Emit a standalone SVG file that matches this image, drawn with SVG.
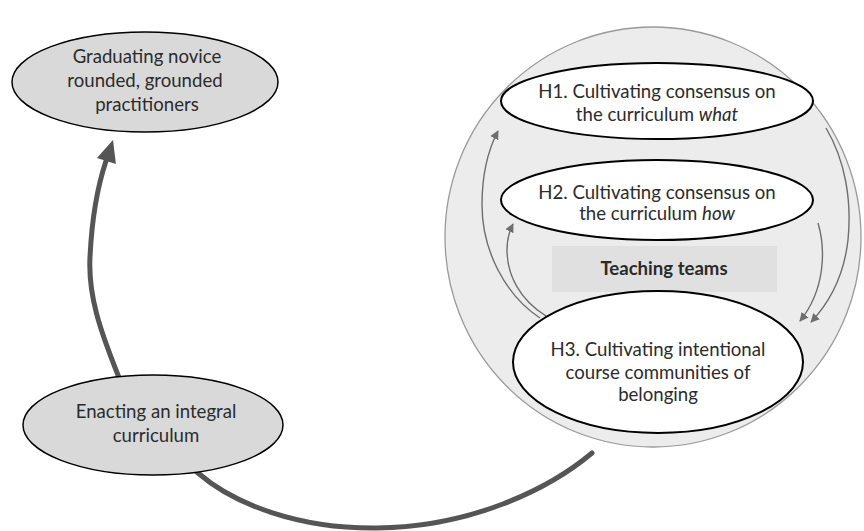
<svg xmlns="http://www.w3.org/2000/svg" width="864" height="531" viewBox="0 0 864 531">
  <defs>
    <marker id="tip" viewBox="0 0 10 10" refX="9" refY="5" markerWidth="9" markerHeight="9" markerUnits="userSpaceOnUse" orient="auto">
      <path d="M0,0 L10,5 L0,10 z" fill="#6e6e6e"/>
    </marker>
  </defs>
  <style>
    .lbl { font-family: Lato, "Open Sans", "Liberation Sans", sans-serif; font-size: 18.6px; fill: #2b2b2b; text-anchor: middle; }
    .bold { font-weight: bold; }
    .gray { fill: #d9d9d9; stroke: #000; stroke-width: 1.5; }
    .white { fill: #fff; stroke: #000; stroke-width: 2; }
    .loop { fill: none; stroke: #6e6e6e; stroke-width: 1.4; marker-end: url(#tip); }
    .main { fill: none; stroke: #555; stroke-width: 5; stroke-linecap: round; }
  </style>
  <rect width="864" height="531" fill="#fff"/>

  <!-- teaching-team sphere -->
  <g id="sphere">
    <ellipse cx="653" cy="237" rx="208" ry="210" fill="#ececec" stroke="#9a9a9a" stroke-width="1.3"/>
  </g>

  <!-- connectors -->
  <g id="connectors">
    <path class="main" d="M592,453 C548,490 470,527 377,528 C300,529 235,505 198,473 C160,440 130,410 118,375 C100,330 88,295 90,257 C92,215 98,185 106,161"/>
    <polygon points="113,140 96.9,157.9 115.9,163.9" fill="#555"/>
    <path class="loop" d="M540,318 C505,295 482,250 482,205 C482,175 488,150 498,131"/>
    <path class="loop" d="M546,316 C520,300 507,275 507,250 C507,240 509,232 513,224"/>
    <path class="loop" d="M826,128 C845,160 852,200 848,240 C844,275 830,302 811,322"/>
    <path class="loop" d="M818,223 C826,250 825,290 800,321"/>
  </g>

  <g id="h1">
    <ellipse class="white" cx="657" cy="101" rx="156" ry="38"/>
    <text class="lbl" x="657" y="98">H1. Cultivating consensus on</text>
    <text class="lbl" x="657" y="121">the curriculum <tspan font-style="italic">what</tspan></text>
  </g>

  <g id="h2">
    <ellipse class="white" cx="657" cy="200" rx="156" ry="40"/>
    <text class="lbl" x="657" y="199">H2. Cultivating consensus on</text>
    <text class="lbl" x="657" y="220">the curriculum <tspan font-style="italic">how</tspan></text>
  </g>

  <g id="teaching-teams">
    <rect x="552" y="246" width="225" height="46" fill="#e0e0e0"/>
    <text class="lbl bold" x="664" y="275">Teaching teams</text>
  </g>

  <g id="h3">
    <ellipse class="white" cx="658" cy="362" rx="145" ry="71"/>
    <text class="lbl" x="658" y="356">H3. Cultivating intentional</text>
    <text class="lbl" x="658" y="379">course communities of</text>
    <text class="lbl" x="658" y="401">belonging</text>
  </g>

  <g id="graduating">
    <ellipse class="gray" cx="145" cy="82" rx="133" ry="50"/>
    <text class="lbl" x="147" y="63">Graduating novice</text>
    <text class="lbl" x="145" y="87">rounded, grounded</text>
    <text class="lbl" x="147" y="111">practitioners</text>
  </g>

  <g id="enacting">
    <ellipse class="gray" cx="153" cy="425" rx="130" ry="50"/>
    <text class="lbl" x="156" y="418">Enacting an integral</text>
    <text class="lbl" x="156" y="442">curriculum</text>
  </g>
</svg>
